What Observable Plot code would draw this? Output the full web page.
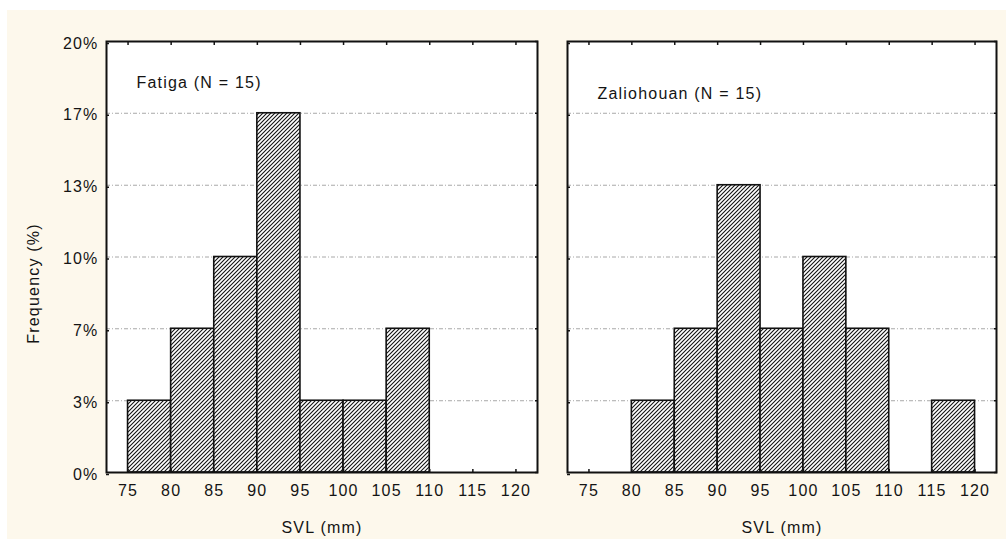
<!DOCTYPE html>
<html>
<head>
<meta charset="utf-8">
<script src="https://cdn.jsdelivr.net/npm/d3@7"></script>
<script src="https://cdn.jsdelivr.net/npm/@observablehq/plot@0.6"></script>
<style>
  html, body { margin: 0; padding: 0; background: #ffffff; }
  #chart { position: relative; width: 1006px; height: 539px; overflow: hidden; }
  #paper { position: absolute; left: 7px; top: 10px; right: 0; bottom: 0; background: #fdf8ec; }
  .panel { position: absolute; top: 0; }
</style>
</head>
<body>
<div id="chart"><div id="paper"></div></div>
<script>
// SVL size classes (mm): each bin starts at the value below and is 5 mm wide
const binStarts = [75, 80, 85, 90, 95, 100, 105, 110, 115];
const binWidth = 5;

// Frequency (%) per size class
const fatigaPct = [3.33, 6.67, 10, 16.67, 3.33, 3.33, 6.67, 0, 0];
const zaliohouanPct = [0, 3.33, 6.67, 13.33, 6.67, 10, 6.67, 0, 3.33];

// Axis ticks and labels
const xTicks = [75, 80, 85, 90, 95, 100, 105, 110, 115, 120];
const yTicks = [0, 3.33, 6.67, 10, 13.33, 16.67, 20];
const yTickLabels = ["0%", "3%", "7%", "10%", "13%", "17%", "20%"];

const panelTitles = ["Fatiga (N = 15)", "Zaliohouan (N = 15)"];
const xLabel = "SVL (mm)";
const yLabel = "Frequency (%)";

const FONT = "'Liberation Sans', Arial, Helvetica, sans-serif";
const INK = "#141414";

// Diagonal "///" hatch used to fill the bars
function hatchDefs(svg, id) {
  const ns = "http://www.w3.org/2000/svg";
  const defs = document.createElementNS(ns, "defs");
  const pat = document.createElementNS(ns, "pattern");
  pat.setAttribute("id", id);
  pat.setAttribute("patternUnits", "userSpaceOnUse");
  pat.setAttribute("width", "4");
  pat.setAttribute("height", "4");
  const bg = document.createElementNS(ns, "rect");
  bg.setAttribute("width", "4");
  bg.setAttribute("height", "4");
  bg.setAttribute("fill", "#ffffff");
  const p = document.createElementNS(ns, "path");
  p.setAttribute("d", "M-1,1 L1,-1 M0,4 L4,0 M3,5 L5,3");
  p.setAttribute("stroke", "#111");
  p.setAttribute("stroke-width", "1.1");
  pat.appendChild(bg);
  pat.appendChild(p);
  defs.appendChild(pat);
  svg.insertBefore(defs, svg.firstChild);
}

function panel({values, title, titleDy, showY, left, width, marginLeft, marginRight, id}) {
  const bins = binStarts
    .map((x, i) => ({x1: x, x2: x + binWidth, pct: values[i]}))
    .filter(d => d.pct > 0);
  const marks = [
    Plot.frame({fill: "white", stroke: null}),
    Plot.gridY(yTicks, {stroke: "#a8a8a8", strokeOpacity: 1, strokeWidth: 1, strokeDasharray: "4,2,1,2"}),
    Plot.rectY(bins, {x1: "x1", x2: "x2", y: "pct", fill: `url(#${id})`, stroke: "#111", strokeWidth: 1.6}),
    Plot.axisX(xTicks, {anchor: "bottom", tickSize: -3, tickPadding: 15.3, strokeWidth: 1.5, label: null, tickFormat: d => String(d)}),
    Plot.axisX(xTicks, {anchor: "top", tickSize: -3, strokeWidth: 1.5, label: null, tickFormat: () => ""}),
    Plot.axisY(yTicks, {anchor: "left", tickSize: -3, tickPadding: 11, dy: 2, strokeWidth: 1.5, label: null,
      tickFormat: showY ? (d => yTickLabels[yTicks.indexOf(d)]) : () => ""}),
    Plot.axisY(yTicks, {anchor: "right", tickSize: -3, strokeWidth: 1.5, label: null, tickFormat: () => ""}),
    Plot.frame({stroke: "#111", strokeWidth: 2}),
    Plot.text([title], {frameAnchor: "top-left", dx: 30, dy: titleDy, textAnchor: "start", lineAnchor: "middle"}),
    Plot.text([xLabel], {frameAnchor: "bottom", dy: 55, textAnchor: "middle", lineAnchor: "middle"})
  ];
  if (showY) {
    marks.push(Plot.text([yLabel], {frameAnchor: "left", dx: -73, dy: 26.5, rotate: -90,
      textAnchor: "middle", lineAnchor: "middle"}));
  }
  const svg = Plot.plot({
    width, height: 539,
    marginLeft, marginRight, marginTop: 41, marginBottom: 67,
    style: {background: "transparent", fontFamily: FONT, fontSize: "16px", color: INK, letterSpacing: "1.2px"},
    x: {domain: [72.5, 122.5]},
    y: {domain: [0, 20]},
    marks
  });
  hatchDefs(svg, id);
  svg.classList.add("panel");
  svg.style.left = left + "px";
  document.getElementById("chart").appendChild(svg);
}

panel({values: fatigaPct, title: panelTitles[0], titleDy: 41.5, showY: true,
  left: 0, width: 552, marginLeft: 106, marginRight: 15, id: "hatch-fatiga"});
panel({values: zaliohouanPct, title: panelTitles[1], titleDy: 52, showY: false,
  left: 552, width: 454, marginLeft: 15, marginRight: 10, id: "hatch-zaliohouan"});
</script>
</body>
</html>
